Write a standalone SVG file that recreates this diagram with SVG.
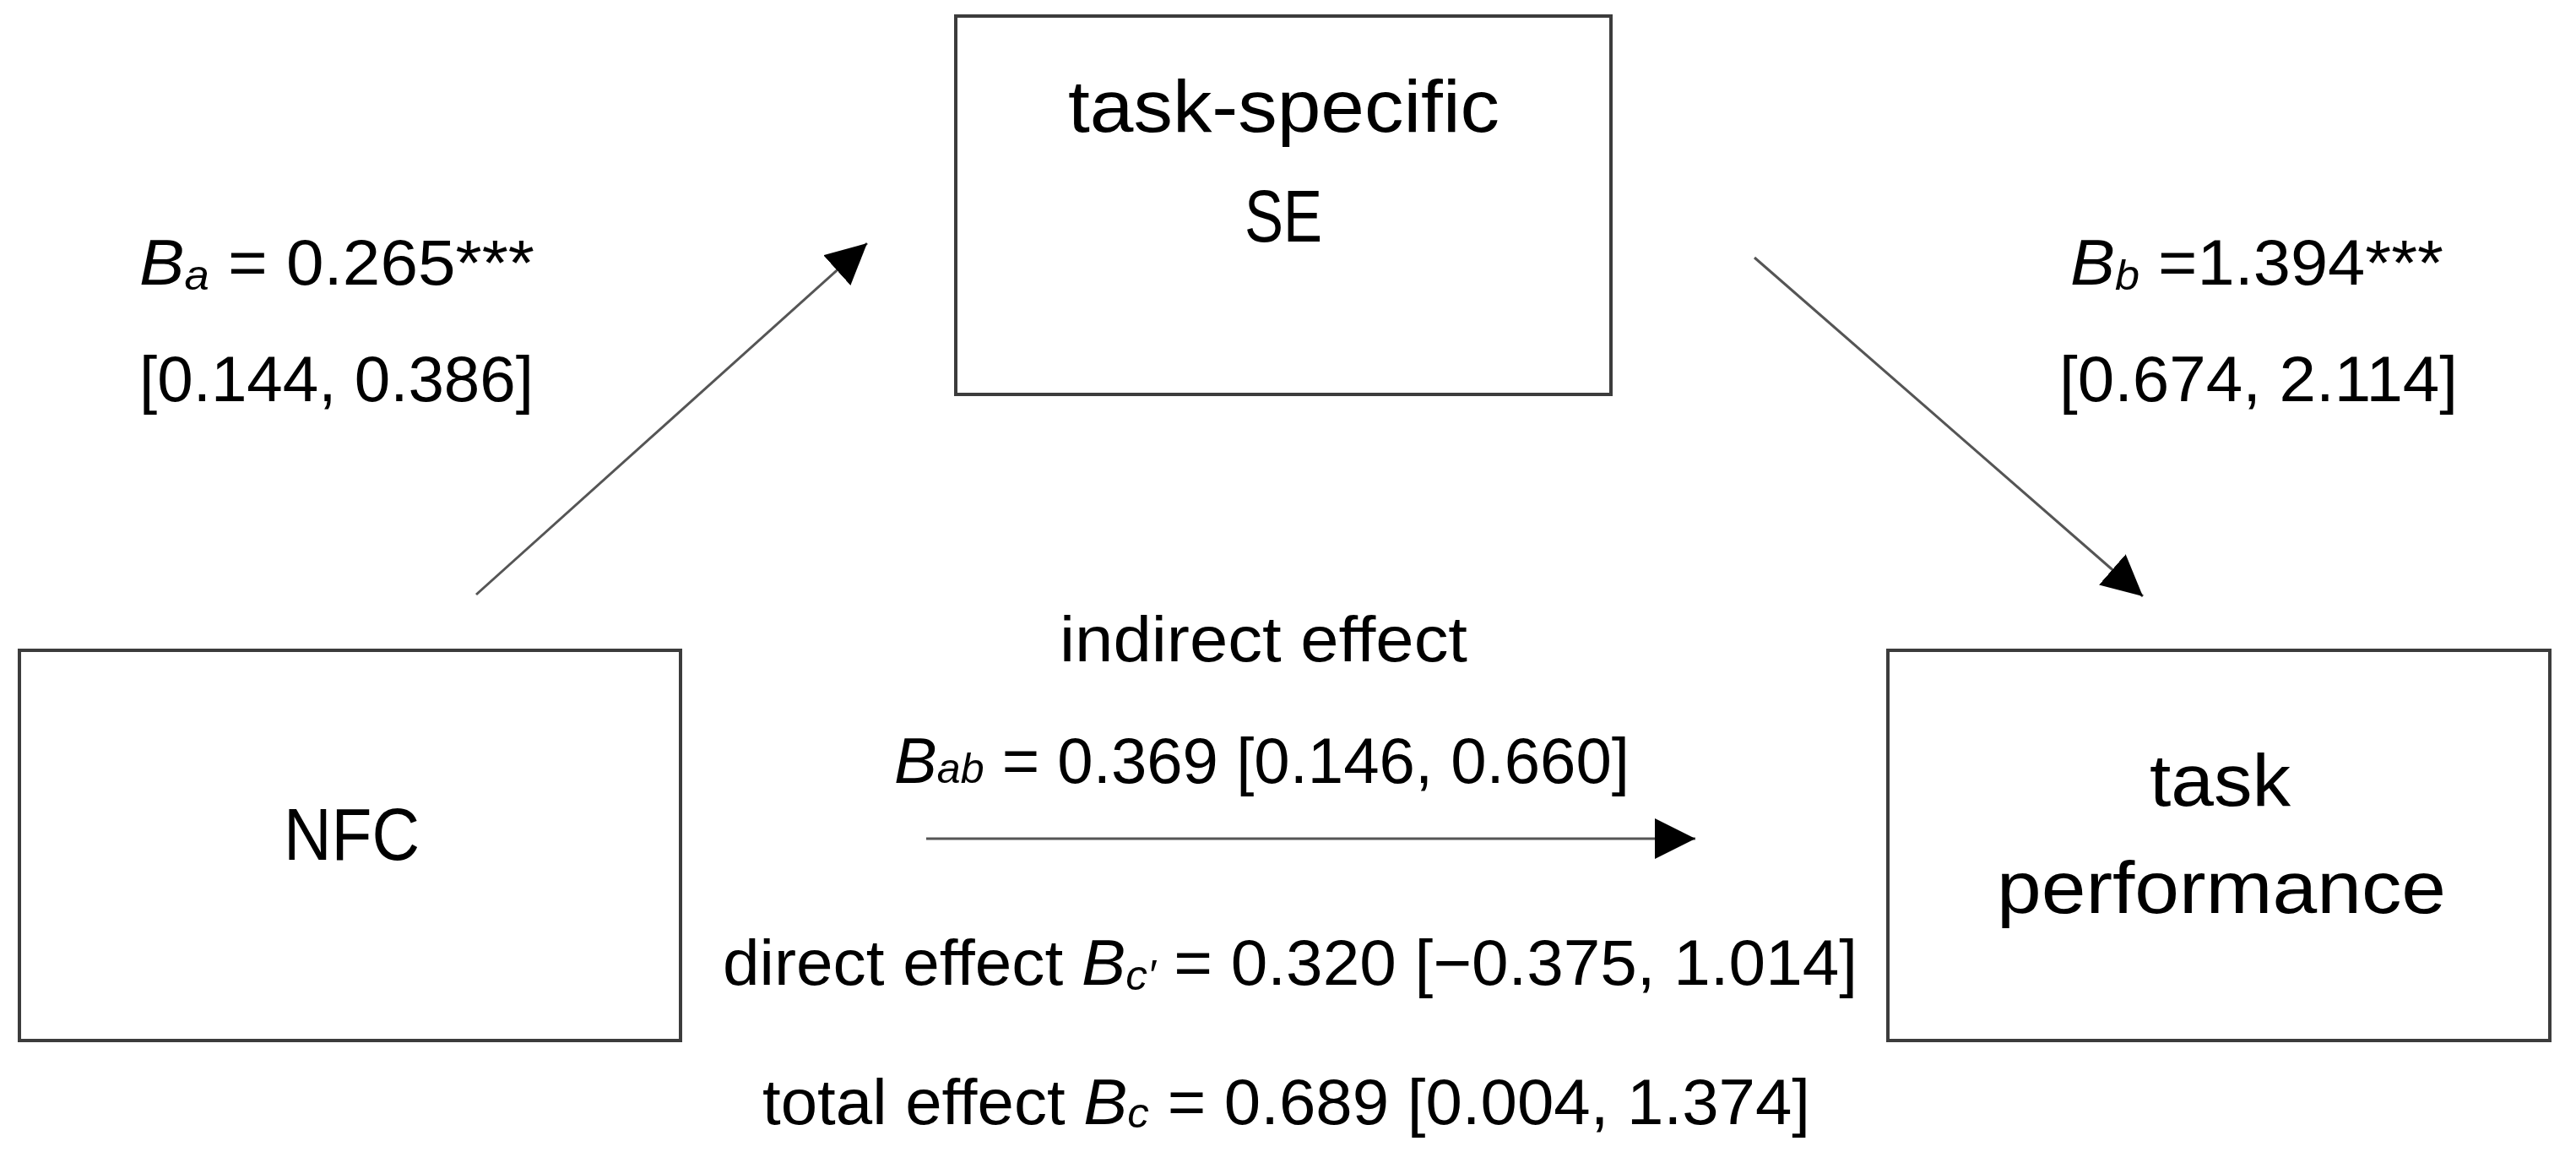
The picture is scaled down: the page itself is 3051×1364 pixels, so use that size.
<svg xmlns="http://www.w3.org/2000/svg" width="3051" height="1364" viewBox="0 0 3051 1364">
  <style>
    .box { fill: #ffffff; stroke: #3c3c3c; stroke-width: 4; }
    .node { font-family: "Liberation Sans", Arial, sans-serif; font-size: 88px; fill: #000; }
    .lbl { font-family: "Liberation Sans", Arial, sans-serif; font-size: 76px; fill: #000; }
    .it { font-style: italic; }
    .sub { font-style: italic; font-size: 50px; }
    .conn { stroke: #555555; stroke-width: 3; fill: none; marker-end: url(#arrow); }
  </style>
  <defs>
    <marker id="arrow" markerUnits="userSpaceOnUse" markerWidth="50" markerHeight="50" refX="48" refY="24" orient="auto">
      <path d="M0,0 L48,24 L0,48 Z" fill="#000"/>
    </marker>
  </defs>
  <rect width="3051" height="1364" fill="#ffffff"/>

  <g id="node-se">
    <rect class="box" x="1132" y="19" width="776" height="448"/>
    <text class="node" x="1265" y="156" textLength="511" lengthAdjust="spacingAndGlyphs">task-specific</text>
    <text class="node" x="1474" y="286" textLength="92" lengthAdjust="spacingAndGlyphs">SE</text>
  </g>

  <g id="node-nfc">
    <rect class="box" x="23" y="770" width="783" height="462"/>
    <text class="node" x="336" y="1018" textLength="161" lengthAdjust="spacingAndGlyphs">NFC</text>
  </g>

  <g id="node-perf">
    <rect class="box" x="2236" y="770" width="784" height="462"/>
    <text class="node" x="2546" y="954" textLength="167" lengthAdjust="spacingAndGlyphs">task</text>
    <text class="node" x="2365" y="1081" textLength="532" lengthAdjust="spacingAndGlyphs">performance</text>
  </g>

  <g id="connectors">
    <line class="conn" x1="564" y1="704" x2="1027" y2="288"/>
    <line class="conn" x1="2078" y1="305" x2="2538" y2="706"/>
    <line class="conn" x1="1097" y1="993" x2="2008" y2="993"/>
  </g>

  <g id="labels">
    <text class="lbl" x="165" y="337" textLength="468" lengthAdjust="spacingAndGlyphs"><tspan class="it">B</tspan><tspan class="sub" dy="6">a</tspan><tspan dy="-6"> = 0.265***</tspan></text>
    <text class="lbl" x="165" y="475" textLength="467" lengthAdjust="spacingAndGlyphs">[0.144, 0.386]</text>

    <text class="lbl" x="2452" y="337" textLength="442" lengthAdjust="spacingAndGlyphs"><tspan class="it">B</tspan><tspan class="sub" dy="6">b</tspan><tspan dy="-6"> =1.394***</tspan></text>
    <text class="lbl" x="2439" y="475" textLength="472" lengthAdjust="spacingAndGlyphs">[0.674, 2.114]</text>

    <text class="lbl" x="1255" y="783" textLength="483" lengthAdjust="spacingAndGlyphs">indirect effect</text>
    <text class="lbl" x="1059" y="927" textLength="871" lengthAdjust="spacingAndGlyphs"><tspan class="it">B</tspan><tspan class="sub">ab</tspan> = 0.369 [0.146, 0.660]</text>
    <text class="lbl" x="856" y="1166" textLength="1344" lengthAdjust="spacingAndGlyphs">direct effect <tspan class="it">B</tspan><tspan class="sub" dy="6">c′</tspan><tspan dy="-6"> = 0.320 [−0.375, 1.014]</tspan></text>
    <text class="lbl" x="903" y="1331" textLength="1241" lengthAdjust="spacingAndGlyphs">total effect <tspan class="it">B</tspan><tspan class="sub" dy="4">c</tspan><tspan dy="-4"> = 0.689 [0.004, 1.374]</tspan></text>
  </g>
</svg>
